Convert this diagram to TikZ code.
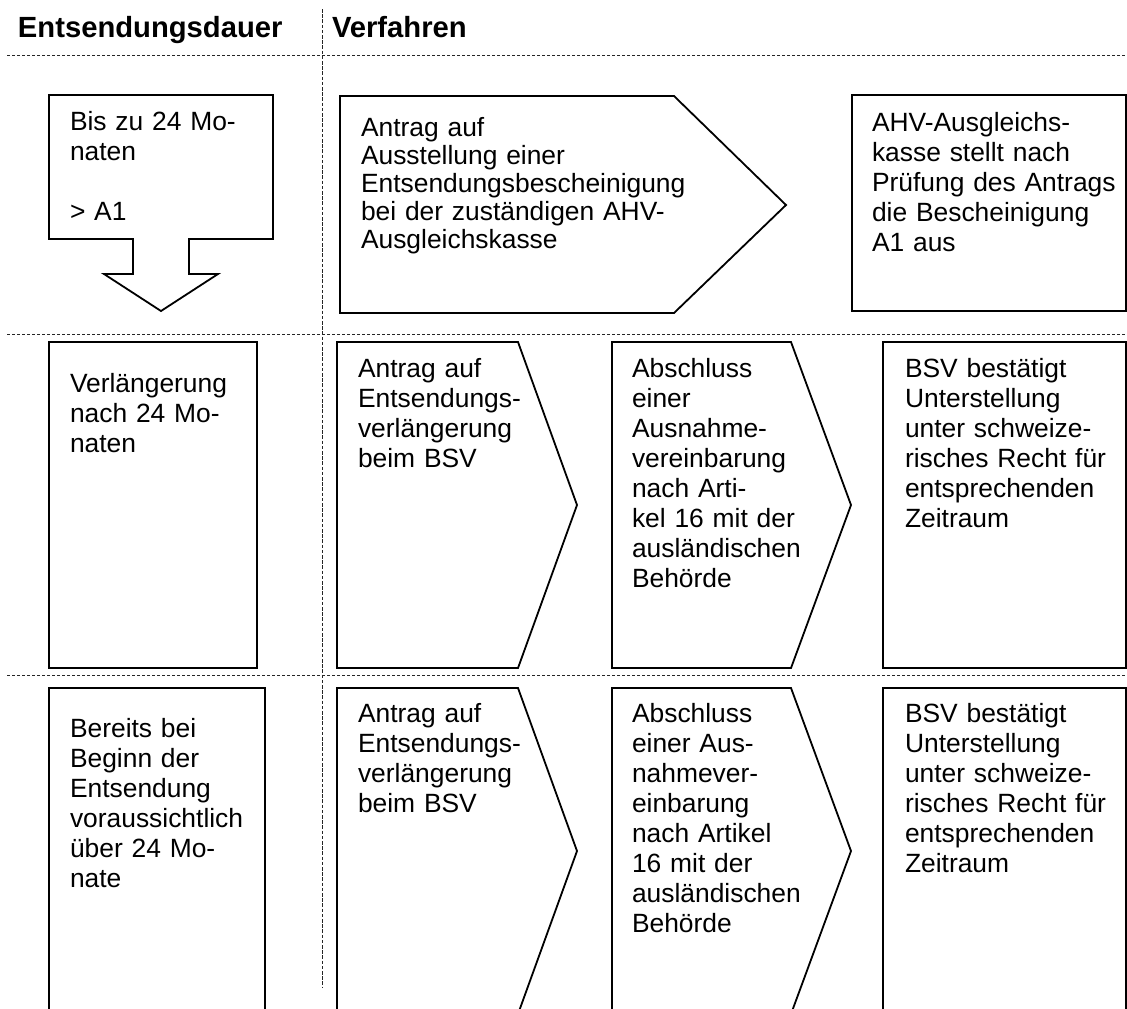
\documentclass[tikz,border=0pt]{standalone}
\usepackage{fontspec}
\setmainfont{Liberation Sans}
\begin{document}
\begin{tikzpicture}[x=0.5pt,y=-0.5pt,
  shapeline/.style={draw=black, line width=0.9pt, line join=miter},
  sepline/.style={draw=black!85, line width=0.45pt, dash pattern=on 1.6pt off 0.9pt},
  vsepline/.style={draw=black!85, line width=0.45pt, dash pattern=on 1.8pt off 0.8pt},
  txt/.style={anchor=base west, inner sep=0pt, outer sep=0pt, text width=200pt, align=left, font=\fontsize{13.2}{15}\selectfont},
  txttight/.style={txt, font=\fontsize{13.2}{14}\selectfont},
  head/.style={anchor=base west, inner sep=0pt, outer sep=0pt, font=\bfseries\fontsize{14.6}{17}\selectfont}]
\useasboundingbox (0,0) rectangle (1127,1008);
\clip (0,0) rectangle (1127,1008);

% separator lines
\coordinate (h1a) at (7,55);   \coordinate (h1b) at (1127,55);
\coordinate (h2a) at (7,334);  \coordinate (h2b) at (1127,334);
\coordinate (h3a) at (7,675);  \coordinate (h3b) at (1127,675);
\coordinate (va) at (322,9);   \coordinate (vb) at (322,988);
\draw[sepline] (h1a) -- (h1b);
\draw[sepline] (h2a) -- (h2b);
\draw[sepline] (h3a) -- (h3b);
\draw[vsepline] (va) -- (vb);

% headers
\node[head] (hdauer) at (18,37) {Entsendungsdauer};
\node[head] (hverf) at (332,37) {Verfahren};

% ---- row 1 ----
\draw[shapeline] (49,95) -- (273,95) -- (273,239) -- (189,239) -- (189,274) -- (218,274)
  -- (161,311) -- (104,274) -- (133,274) -- (133,239) -- (49,239) -- cycle;
\node[txt] (r1a) at (70,130) {Bis zu 24 Mo-\\naten\\\mbox{}\\> A1};

\draw[shapeline] (340,96) -- (674,96) -- (786,205) -- (674,313) -- (340,313) -- cycle;
\node[txttight] (r1b) at (361,136) {Antrag auf\\Ausstellung einer\\Entsendungsbescheinigung\\bei der zuständigen AHV-\\Ausgleichskasse};

\draw[shapeline] (852,95) -- (1126,95) -- (1126,311) -- (852,311) -- cycle;
\node[txt] (r1c) at (872,131) {AHV-Ausgleichs-\\kasse stellt nach\\Prüfung des Antrags\\die Bescheinigung\\A1 aus};

% ---- row 2 ----
\draw[shapeline] (49,342) rectangle (257,668);
\node[txt] (r2a) at (70,392) {Verlängerung\\nach 24 Mo-\\naten};

\draw[shapeline] (337,342) -- (518,342) -- (577,505) -- (518,668) -- (337,668) -- cycle;
\node[txt] (r2b) at (358,377) {Antrag auf\\Entsendungs-\\verlängerung\\beim BSV};

\draw[shapeline] (612,342) -- (791,342) -- (851,505) -- (791,668) -- (612,668) -- cycle;
\node[txt] (r2c) at (632,377) {Abschluss\\einer\\Ausnahme-\\vereinbarung\\nach Arti-\\kel 16 mit der\\ausländischen\\Behörde};

\draw[shapeline] (883,342) rectangle (1126,668);
\node[txt] (r2d) at (905,377) {BSV bestätigt\\Unterstellung\\unter schweize-\\risches Recht für\\entsprechenden\\Zeitraum};

% ---- row 3 ----
\draw[shapeline] (49,688) rectangle (265,1020);
\node[txt] (r3a) at (70,737) {Bereits bei\\Beginn der\\Entsendung\\voraussichtlich\\über 24 Mo-\\nate};

\draw[shapeline] (337,688) -- (518,688) -- (577,851) -- (518,1014) -- (337,1014) -- cycle;
\node[txt] (r3b) at (358,722) {Antrag auf\\Entsendungs-\\verlängerung\\beim BSV};

\draw[shapeline] (612,688) -- (791,688) -- (851,851) -- (791,1014) -- (612,1014) -- cycle;
\node[txt] (r3c) at (632,722) {Abschluss\\einer Aus-\\nahmever-\\einbarung\\nach Artikel\\16 mit der\\ausländischen\\Behörde};

\draw[shapeline] (883,688) rectangle (1126,1020);
\node[txt] (r3d) at (905,722) {BSV bestätigt\\Unterstellung\\unter schweize-\\risches Recht für\\entsprechenden\\Zeitraum};
\end{tikzpicture}
\end{document}
